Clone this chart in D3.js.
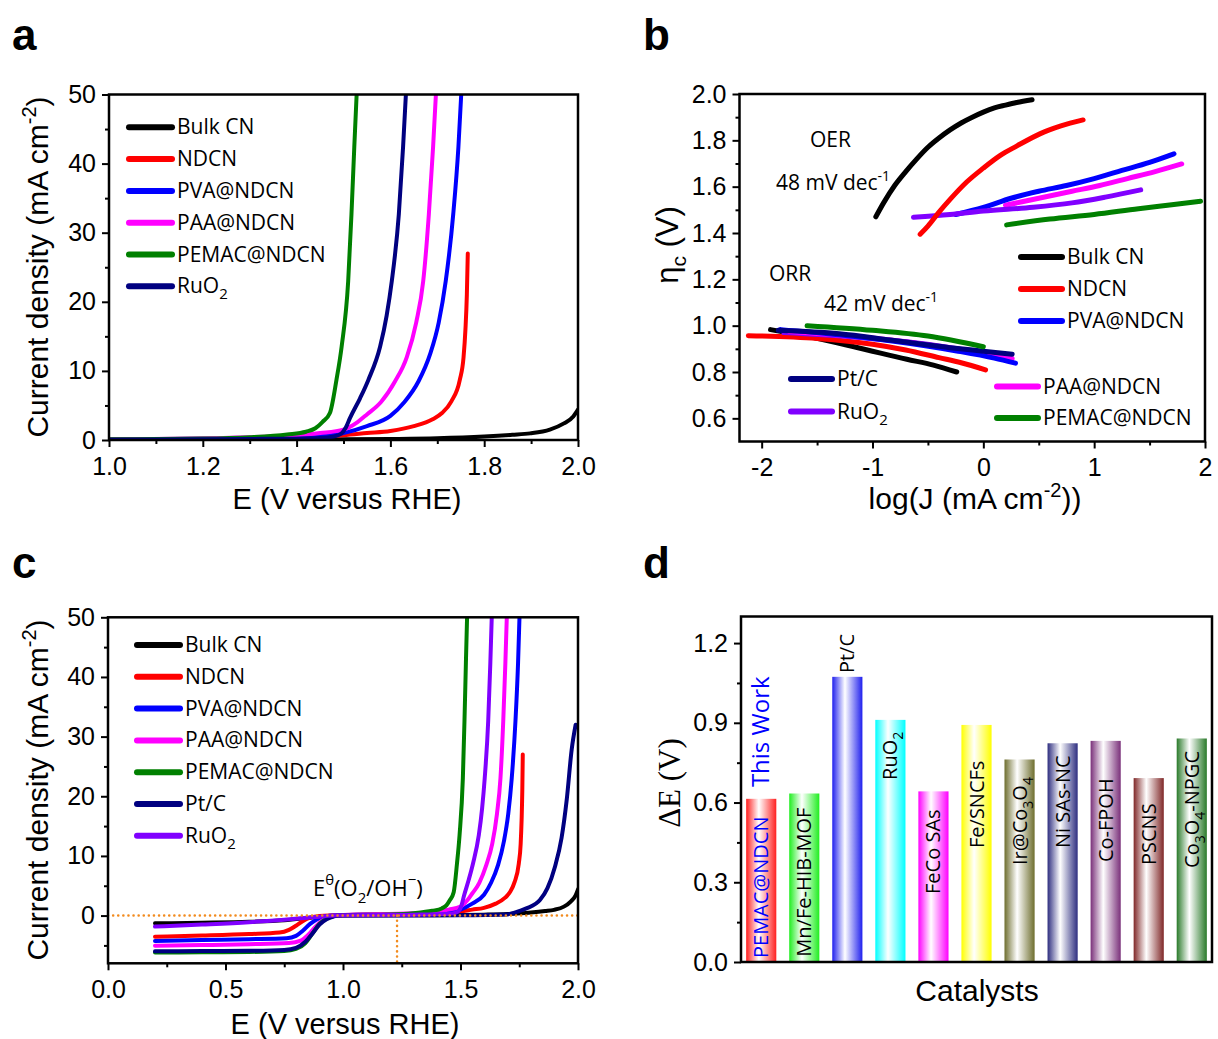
<!DOCTYPE html>
<html>
<head>
<meta charset="utf-8">
<script src="https://cdn.jsdelivr.net/npm/d3@7"></script>
<style>
body { margin: 0; background: #fff; }
svg text { font-family: "Liberation Sans", Arial, sans-serif; fill: #000; }
svg text.lbl { font-family: "Open Sans", sans-serif; }
svg text.serif { font-family: "Liberation Serif", "Times New Roman", serif; }
</style>
</head>
<body>
<svg id="fig" width="1218" height="1039"></svg>
<script>
// ---- panel a : OER polarisation curves [E vs RHE, J mA cm-2]
var oerBulk  = [[1.0,0.0],[1.3,0.05],[1.5,0.1],[1.6,0.15],[1.7,0.25],[1.8,0.5],[1.86,0.75],[1.898,0.96],[1.94,1.5],[1.97,2.4],[1.99,3.4],[2.0,4.4]];
var oerNDCN  = [[1.0,0.1],[1.2,0.15],[1.4,0.3],[1.5,0.7],[1.55,1.0],[1.6,1.3],[1.65,2.0],[1.69,3.0],[1.71,3.9],[1.73,5.6],[1.748,8.7],[1.756,12],[1.76,16],[1.763,21],[1.765,27]];
var oerPVA   = [[1.0,0.1],[1.3,0.3],[1.45,0.6],[1.5,1.0],[1.55,2.0],[1.6,3.5],[1.63,5.5],[1.66,8.5],[1.685,12.5],[1.703,17],[1.718,23],[1.734,32.7],[1.745,42.4],[1.751,50]];
var oerPAA   = [[1.0,0.1],[1.3,0.4],[1.45,1.0],[1.5,1.5],[1.53,2.6],[1.55,3.7],[1.58,5.5],[1.61,8.5],[1.635,12],[1.655,17],[1.67,23],[1.682,32.7],[1.691,42.4],[1.697,50]];
var oerPEMAC = [[1.0,0.1],[1.2,0.2],[1.3,0.4],[1.38,0.8],[1.42,1.2],[1.44,1.7],[1.455,2.6],[1.471,3.9],[1.485,8.7],[1.496,13.5],[1.51,23],[1.517,32.7],[1.523,42.4],[1.528,50]];
var oerRuO2  = [[1.0,0.05],[1.3,0.15],[1.45,0.3],[1.48,0.5],[1.495,0.9],[1.505,1.8],[1.514,3.2],[1.535,6.0],[1.553,8.7],[1.578,13.5],[1.592,18],[1.603,23],[1.618,32.7],[1.627,42.4],[1.633,50]];
var oerPtC   = [[1.0,0.0],[1.5,0.05],[1.7,0.2],[1.73,0.5],[1.78,1.2],[1.838,2.6],[1.87,4.6],[1.902,8.2],[1.93,13],[1.952,19.4],[1.973,27.8],[1.99,32]];

// ---- panel c : ORR branch (E 0.2 - 0.98 V)
var orrBulk  = [[0.2,-1.3],[0.4,-1.2],[0.6,-1.05],[0.75,-0.8],[0.85,-0.4],[0.92,-0.1],[0.98,0.0]];
var orrNDCN  = [[0.2,-3.55],[0.4,-3.35],[0.6,-3.1],[0.73,-2.85],[0.77,-2.4],[0.8,-1.7],[0.83,-0.9],[0.86,-0.35],[0.9,-0.05],[0.98,0.05]];
var orrPVA   = [[0.2,-4.25],[0.4,-4.1],[0.6,-3.95],[0.76,-3.8],[0.8,-3.4],[0.83,-2.5],[0.86,-1.4],[0.89,-0.6],[0.93,-0.1],[0.98,0.05]];
var orrPAA   = [[0.2,-5.05],[0.4,-4.95],[0.6,-4.8],[0.77,-4.6],[0.82,-4.2],[0.85,-3.3],[0.88,-2.0],[0.91,-0.9],[0.94,-0.3],[0.98,0.05]];
var orrPEMAC = [[0.2,-6.2],[0.4,-6.15],[0.6,-6.1],[0.75,-5.95],[0.8,-5.6],[0.84,-4.6],[0.87,-3.0],[0.9,-1.4],[0.93,-0.5],[0.96,-0.1],[0.98,0.05]];
var orrPtC   = [[0.2,-6.0],[0.4,-5.95],[0.6,-5.9],[0.75,-5.75],[0.8,-5.4],[0.84,-4.4],[0.87,-3.0],[0.9,-1.5],[0.93,-0.6],[0.96,-0.15],[0.98,0.0]];
var orrRuO2  = [[0.2,-1.85],[0.4,-1.5],[0.6,-1.1],[0.75,-0.7],[0.85,-0.35],[0.92,-0.1],[0.98,0.05]];

// ---- panel b : Tafel plots [log J, eta]
var tafOerBulk  = [[-0.97,1.47],[-0.9,1.53],[-0.8,1.605],[-0.7,1.665],[-0.6,1.72],[-0.5,1.77],[-0.4,1.81],[-0.3,1.845],[-0.2,1.875],[-0.1,1.9],[0,1.922],[0.1,1.94],[0.2,1.952],[0.3,1.963],[0.44,1.975]];
var tafOerNDCN  = [[-0.57,1.395],[-0.5,1.43],[-0.4,1.49],[-0.3,1.545],[-0.15,1.62],[0,1.68],[0.15,1.734],[0.3,1.775],[0.51,1.828],[0.7,1.862],[0.9,1.888]];
var tafOerPVA   = [[-0.25,1.48],[0,1.51],[0.25,1.55],[0.5,1.58],[0.75,1.605],[1.0,1.635],[1.25,1.67],[1.5,1.705],[1.72,1.742]];
var tafOerPAA   = [[0.2,1.52],[0.5,1.55],[0.8,1.58],[1.05,1.605],[1.3,1.635],[1.55,1.665],[1.79,1.698]];
var tafOerRuO2  = [[-0.63,1.468],[-0.3,1.48],[0,1.495],[0.45,1.511],[0.8,1.53],[1.1,1.555],[1.42,1.586]];
var tafOerPEMAC = [[0.21,1.435],[0.6,1.46],[1.0,1.48],[1.4,1.505],[1.7,1.522],[1.96,1.537]];
var tafOrrBulk  = [[-1.92,0.983],[-1.6,0.955],[-1.14,0.906],[-0.69,0.855],[-0.45,0.83],[-0.24,0.80]];
var tafOrrNDCN  = [[-2.12,0.957],[-1.5,0.945],[-1.0,0.92],[-0.7,0.895],[-0.4,0.862],[-0.2,0.84],[0.02,0.809]];
var tafOrrRuO2  = [[-1.8,0.97],[-1.2,0.952],[-0.6,0.925],[-0.1,0.89],[0.2,0.865]];
var tafOrrPAA   = [[-1.75,0.975],[-1.2,0.955],[-0.7,0.93],[-0.2,0.895],[0.1,0.872],[0.26,0.857]];
var tafOrrPVA   = [[-1.83,0.983],[-1.4,0.965],[-0.84,0.935],[-0.24,0.891],[0.1,0.86],[0.29,0.838]];
var tafOrrPtC   = [[-1.85,0.98],[-1.3,0.965],[-0.84,0.938],[-0.3,0.905],[0.0,0.89],[0.26,0.877]];
var tafOrrPEMAC = [[-1.59,1.0],[-1.0,0.98],[-0.5,0.955],[0.0,0.909]];

// ---- panel d : potential gap of catalysts
var catalysts = ["PEMAC@NDCN","Mn/Fe-HIB-MOF","Pt/C","RuO2","FeCo SAs","Fe/SNCFs","Ir@Co3O4","Ni SAs-NC","Co-FPOH","PSCNS","Co3O4-NPGC"];
var deltaE    = [0.614, 0.634, 1.073, 0.911, 0.642, 0.892, 0.762, 0.823, 0.832, 0.692, 0.841];
var barColors = ["#ff2020","#20ee20","#2020ee","#00ffff","#ff00ff","#ffff00","#6e6e2e","#2e2e80","#7a307a","#802828","#2a7a2a"];
var labelFrom = [0.015, 0.02, 1.087, 0.685, 0.256, 0.429, 0.365, 0.429, 0.376, 0.365, 0.354];

// ---- ticks
var aXTicks = [1.0,1.2,1.4,1.6,1.8,2.0], aXMinor = [1.1,1.3,1.5,1.7,1.9];
var aYTicks = [0,10,20,30,40,50], aYMinor = [5,15,25,35,45];
var bXTicks = [-2,-1,0,1,2], bXMinor = [-1.5,-0.5,0.5,1.5];
var bYTicks = [0.6,0.8,1.0,1.2,1.4,1.6,1.8,2.0], bYMinor = [0.7,0.9,1.1,1.3,1.5,1.7,1.9];
var cXTicks = [0.0,0.5,1.0,1.5,2.0], cXMinor = [0.25,0.75,1.25,1.75];
var cYTicks = [0,10,20,30,40,50], cYMinor = [-5,5,15,25,35,45];
var dYTicks = [0.0,0.3,0.6,0.9,1.2], dYMinor = [0.15,0.45,0.75,1.05];

var BLACK = "#000000", RED = "#ff0000", BLUE = "#0000ff", MAG = "#ff00ff",
    GREEN = "#008000", NAVY = "#000080", PURPLE = "#8000ff", ORANGE = "#f28b1e";

var svg = d3.select("#fig");

// text with digits drawn as subscripts
function rich(t, s, size) {
  var cur = 0, sh = Math.round(size * 0.3);
  s.split(/(\d+)/).filter(function(p) { return p; }).forEach(function(p) {
    var sub = /^\d+$/.test(p), target = sub ? sh : 0;
    var ts = t.append("tspan").attr("dy", target - cur).text(p);
    if (sub) ts.attr("font-size", Math.round(size * 0.7));
    cur = target;
  });
}

function frame(g, x, y, o) {
  var xr = x.range(), yr = y.range();
  if (o.xMajor) {
    g.append("g").attr("transform", "translate(0," + yr[0] + ")")
      .call(d3.axisBottom(x).tickValues(o.xMajor).tickFormat(o.xFmt).tickSize(7).tickSizeOuter(0).tickPadding(10));
    g.append("g").attr("transform", "translate(0," + yr[0] + ")")
      .call(d3.axisBottom(x).tickValues(o.xMinor).tickFormat("").tickSize(4).tickSizeOuter(0));
  }
  g.append("g").attr("transform", "translate(" + xr[0] + ",0)")
    .call(d3.axisLeft(y).tickValues(o.yMajor).tickFormat(o.yFmt).tickSize(7).tickSizeOuter(0).tickPadding(6));
  g.append("g").attr("transform", "translate(" + xr[0] + ",0)")
    .call(d3.axisLeft(y).tickValues(o.yMinor).tickFormat("").tickSize(4).tickSizeOuter(0));
  g.selectAll(".domain").remove();
  g.selectAll(".tick line").attr("stroke", "#000").attr("stroke-width", 2);
  g.selectAll(".tick text").attr("font-size", 25).attr("fill", "#000");
  g.append("rect").attr("x", xr[0]).attr("y", yr[1])
    .attr("width", xr[1] - xr[0]).attr("height", yr[0] - yr[1])
    .attr("fill", "none").attr("stroke", "#000").attr("stroke-width", 2.5);
}

function drawLines(g, x, y, series, width, clipId) {
  var line = d3.line().x(function(d) { return x(d[0]); }).y(function(d) { return y(d[1]); }).curve(d3.curveMonotoneX);
  var xr = x.range(), yr = y.range();
  svg.append("clipPath").attr("id", clipId).append("rect")
    .attr("x", xr[0]).attr("y", yr[1]).attr("width", xr[1] - xr[0]).attr("height", yr[0] - yr[1]);
  var gg = g.append("g").attr("clip-path", "url(#" + clipId + ")");
  series.forEach(function(s) {
    gg.append("path").attr("d", line(s.data)).attr("fill", "none")
      .attr("stroke", s.color).attr("stroke-width", width)
      .attr("stroke-linecap", "round").attr("stroke-linejoin", "round");
  });
}

function legend(g, items, x0, y0, dy, len) {
  items.forEach(function(it, i) {
    var yy = y0 + i * dy;
    g.append("line").attr("x1", x0).attr("x2", x0 + len).attr("y1", yy).attr("y2", yy)
      .attr("stroke", it.color).attr("stroke-width", 6).attr("stroke-linecap", "round");
    var t = g.append("text").attr("class", "lbl").attr("x", x0 + len + 5).attr("y", yy + 7).attr("font-size", 21);
    rich(t, it.name, 21);
  });
}

function panelLetter(x, y, s) {
  svg.append("text").attr("x", x).attr("y", y).attr("font-size", 44).attr("font-weight", "bold").text(s);
}

function yTitleCurrent(cx, cy) {
  var t = svg.append("text").attr("transform", "translate(" + cx + "," + cy + ") rotate(-90)")
    .attr("text-anchor", "middle").attr("font-size", 30);
  t.append("tspan").text("Current density (mA cm");
  t.append("tspan").attr("dy", -12).attr("font-size", 20).text("-2");
  t.append("tspan").attr("dy", 12).text(")");
}

// ================= panel a =================
var xA = d3.scaleLinear([1, 2], [109, 578]);
var yA = d3.scaleLinear([0, 50], [440, 94.5]);
var gA = svg.append("g");
drawLines(gA, xA, yA, [
  {data: oerBulk, color: BLACK}, {data: oerNDCN, color: RED}, {data: oerPVA, color: BLUE},
  {data: oerPAA, color: MAG}, {data: oerPEMAC, color: GREEN}, {data: oerRuO2, color: NAVY}
], 4, "clipA");
frame(gA, xA, yA, {xMajor: aXTicks, xMinor: aXMinor, yMajor: aYTicks, yMinor: aYMinor,
  xFmt: d3.format(".1f"), yFmt: d3.format("d")});
legend(gA, [
  {name: "Bulk CN", color: BLACK}, {name: "NDCN", color: RED}, {name: "PVA@NDCN", color: BLUE},
  {name: "PAA@NDCN", color: MAG}, {name: "PEMAC@NDCN", color: GREEN}, {name: "RuO2", color: NAVY}
], 129, 127.3, 31.8, 43);
svg.append("text").attr("x", 347).attr("y", 509).attr("text-anchor", "middle").attr("font-size", 29).text("E (V versus RHE)");
yTitleCurrent(48, 267);
panelLetter(12, 50, "a");

// ================= panel b =================
var xB = d3.scaleLinear([-2.2, 2], [739.5, 1205]);
var yB = d3.scaleLinear([0.5, 2], [441.5, 94]);
var gB = svg.append("g");
drawLines(gB, xB, yB, [
  {data: tafOrrBulk, color: BLACK}, {data: tafOrrNDCN, color: RED}, {data: tafOrrRuO2, color: PURPLE},
  {data: tafOrrPAA, color: MAG}, {data: tafOrrPVA, color: BLUE}, {data: tafOrrPtC, color: NAVY},
  {data: tafOrrPEMAC, color: GREEN},
  {data: tafOerPEMAC, color: GREEN}, {data: tafOerPAA, color: MAG}, {data: tafOerPVA, color: BLUE},
  {data: tafOerRuO2, color: PURPLE}, {data: tafOerNDCN, color: RED}, {data: tafOerBulk, color: BLACK}
], 5, "clipB");
frame(gB, xB, yB, {xMajor: bXTicks, xMinor: bXMinor, yMajor: bYTicks, yMinor: bYMinor,
  xFmt: function(d) { return String(d); }, yFmt: d3.format(".1f")});
legend(gB, [{name: "Bulk CN", color: BLACK}, {name: "NDCN", color: RED}, {name: "PVA@NDCN", color: BLUE}],
  1021, 257, 32, 41);
legend(gB, [{name: "PAA@NDCN", color: MAG}, {name: "PEMAC@NDCN", color: GREEN}], 997, 386.5, 31.5, 41);
legend(gB, [{name: "Pt/C", color: NAVY}, {name: "RuO2", color: PURPLE}], 791, 379, 32.5, 41);
svg.append("text").attr("class", "lbl").attr("x", 810).attr("y", 147).attr("font-size", 21).text("OER");
var t48 = svg.append("text").attr("class", "lbl").attr("x", 776).attr("y", 190).attr("font-size", 21);
t48.append("tspan").text("48 mV dec");
t48.append("tspan").attr("dy", -9).attr("font-size", 14).text("-1");
svg.append("text").attr("class", "lbl").attr("x", 769).attr("y", 281).attr("font-size", 21).text("ORR");
var t42 = svg.append("text").attr("class", "lbl").attr("x", 824).attr("y", 311).attr("font-size", 21);
t42.append("tspan").text("42 mV dec");
t42.append("tspan").attr("dy", -9).attr("font-size", 14).text("-1");
var tJ = svg.append("text").attr("x", 975).attr("y", 509).attr("text-anchor", "middle").attr("font-size", 30);
tJ.append("tspan").text("log(J (mA cm");
tJ.append("tspan").attr("dy", -12).attr("font-size", 20).text("-2");
tJ.append("tspan").attr("dy", 12).text("))");
var tEta = svg.append("text").attr("transform", "translate(678,245) rotate(-90)")
  .attr("text-anchor", "middle").attr("font-size", 31);
tEta.append("tspan").text("\u03b7");
tEta.append("tspan").attr("dy", 8).attr("font-size", 21).text("c");
tEta.append("tspan").attr("dy", -8).text(" (V)");
panelLetter(643, 50, "b");

// ================= panel c =================
var xC = d3.scaleLinear([0, 2], [108, 578]);
var yC = d3.scaleLinear([-8, 50], [963.3, 617.3]);
var gC = svg.append("g");
drawLines(gC, xC, yC, [
  {data: orrBulk.concat(oerBulk), color: BLACK}, {data: orrNDCN.concat(oerNDCN), color: RED},
  {data: orrPVA.concat(oerPVA), color: BLUE}, {data: orrPAA.concat(oerPAA), color: MAG},
  {data: orrPEMAC.concat(oerPEMAC), color: GREEN}, {data: orrPtC.concat(oerPtC), color: NAVY},
  {data: orrRuO2.concat(oerRuO2), color: PURPLE}
], 4, "clipC");
// reference lines: y = 0 and E0(O2/OH-) = 1.23 V
gC.append("line").attr("x1", xC(0)).attr("x2", xC(2)).attr("y1", yC(0)).attr("y2", yC(0))
  .attr("stroke", ORANGE).attr("stroke-width", 2.5).attr("stroke-dasharray", "0.1 5").attr("stroke-linecap", "round");
gC.append("line").attr("x1", xC(1.23)).attr("x2", xC(1.23)).attr("y1", yC(0)).attr("y2", yC(-8))
  .attr("stroke", ORANGE).attr("stroke-width", 2.5).attr("stroke-dasharray", "0.1 5").attr("stroke-linecap", "round");
frame(gC, xC, yC, {xMajor: cXTicks, xMinor: cXMinor, yMajor: cYTicks, yMinor: cYMinor,
  xFmt: d3.format(".1f"), yFmt: d3.format("d")});
legend(gC, [
  {name: "Bulk CN", color: BLACK}, {name: "NDCN", color: RED}, {name: "PVA@NDCN", color: BLUE},
  {name: "PAA@NDCN", color: MAG}, {name: "PEMAC@NDCN", color: GREEN}, {name: "Pt/C", color: NAVY},
  {name: "RuO2", color: PURPLE}
], 137, 645, 31.8, 43);
var tE = svg.append("text").attr("class", "lbl").attr("x", 313).attr("y", 896).attr("font-size", 22);
tE.append("tspan").text("E");
tE.append("tspan").attr("dy", -11).attr("font-size", 15).text("\u03b8");
tE.append("tspan").attr("dy", 11).text("(O");
tE.append("tspan").attr("dy", 7).attr("font-size", 15).text("2");
tE.append("tspan").attr("dy", -7).text("/OH");
tE.append("tspan").attr("dy", -11).attr("font-size", 15).text("\u2212");
tE.append("tspan").attr("dy", 11).text(")");
svg.append("text").attr("x", 345).attr("y", 1034).attr("text-anchor", "middle").attr("font-size", 29).text("E (V versus RHE)");
yTitleCurrent(48, 790);
panelLetter(12, 578, "c");

// ================= panel d =================
var xD = d3.scaleBand(catalysts, [741, 1212]).paddingInner(0.3).paddingOuter(0.12);
var yD = d3.scaleLinear([0, 1.3], [962, 616.5]);
var gD = svg.append("g");
var defs = svg.append("defs");
barColors.forEach(function(c, i) {
  var gr = defs.append("linearGradient").attr("id", "bar" + i).attr("x1", 0).attr("x2", 1).attr("y1", 0).attr("y2", 0);
  gr.append("stop").attr("offset", "0%").attr("stop-color", c);
  gr.append("stop").attr("offset", "42%").attr("stop-color", "#ffffff");
  gr.append("stop").attr("offset", "100%").attr("stop-color", c);
});
gD.selectAll(".bar").data(catalysts).enter().append("rect")
  .attr("class", "bar")
  .attr("x", function(d) { return xD(d); })
  .attr("width", xD.bandwidth())
  .attr("y", function(d, i) { return yD(deltaE[i]); })
  .attr("height", function(d, i) { return yD(0) - yD(deltaE[i]); })
  .attr("fill", function(d, i) { return "url(#bar" + i + ")"; });
catalysts.forEach(function(c, i) {
  var cx = xD(c) + xD.bandwidth() / 2;
  var t = gD.append("text").attr("class", "lbl")
    .attr("transform", "translate(" + (cx + 7) + "," + yD(labelFrom[i]) + ") rotate(-90)")
    .attr("font-size", 20).style("fill", i === 0 ? BLUE : "#000");
  rich(t, c, 20);
});
gD.append("text").attr("class", "lbl")
  .attr("transform", "translate(" + (xD(catalysts[0]) + xD.bandwidth() / 2 + 8) + "," + yD(0.658) + ") rotate(-90)")
  .attr("font-size", 24).style("fill", BLUE).text("This Work");
frame(gD, xD, yD, {yMajor: dYTicks, yMinor: dYMinor, yFmt: d3.format(".1f")});
svg.append("text").attr("x", 977).attr("y", 1001).attr("text-anchor", "middle").attr("font-size", 30).text("Catalysts");
svg.append("text").attr("class", "serif").attr("transform", "translate(680,783) rotate(-90)").attr("text-anchor", "middle")
  .attr("font-size", 31).text("\u0394E (V)");
panelLetter(643, 578, "d");
</script>
</body>
</html>
